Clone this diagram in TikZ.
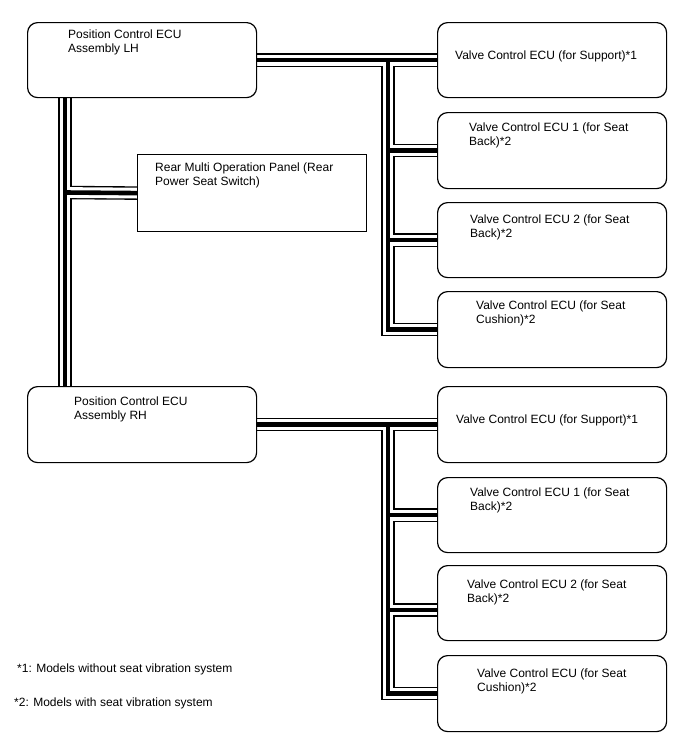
\documentclass[tikz,border=0pt]{standalone}
\usepackage{fontspec}
\setmainfont{Liberation Sans}
\usetikzlibrary{backgrounds}
\begin{document}
\begin{tikzpicture}[x=1pt,y=-1pt,
  ecu/.style={draw=black,line width=1.2pt,fill=white,rounded corners=10pt,anchor=north west,inner sep=0pt,minimum width=229pt},
  panelbox/.style={draw=black,line width=1.2pt,fill=white,anchor=north west,inner sep=0pt,minimum width=229pt,minimum height=77pt},
  txt/.style={anchor=base west,align=left,inner sep=0pt,font=\fontsize{12}{14}\selectfont},
  buslayer/.style={line width=#1,line cap=butt,line join=miter}]
\useasboundingbox (0,0) rectangle (688,755);
% ECU boxes
\node[ecu,minimum height=75pt] (lh) at (27,22) {};
\node[ecu,minimum height=76pt] (rh) at (27,386) {};
\node[panelbox] (panel) at (137,154) {};
\node[ecu,minimum height=75pt] (u1) at (437,22) {};
\node[ecu,minimum height=76pt] (u2) at (437,112) {};
\node[ecu,minimum height=75pt] (u3) at (437,202) {};
\node[ecu,minimum height=76pt] (u4) at (437,291) {};
\node[ecu,minimum height=76pt] (l1) at (437,386) {};
\node[ecu,minimum height=75pt] (l2) at (437,477) {};
\node[ecu,minimum height=75pt] (l3) at (437,565) {};
\node[ecu,minimum height=76pt] (l4) at (437,655) {};
% texts (base anchor of a two-line node = baseline of its last line)
\node[txt] (tlh) at (68,52) {Position Control ECU\\Assembly LH};
\node[txt] (trh) at (74,419) {Position Control ECU\\Assembly RH};
\node[txt] (tpanel) at (155,185) {Rear Multi Operation Panel (Rear\\Power Seat Switch)};
\node[txt] (tu1) at (455,59) {Valve Control ECU (for Support)*1};
\node[txt] (tu2) at (469,145) {Valve Control ECU 1 (for Seat\\Back)*2};
\node[txt] (tu3) at (470,237) {Valve Control ECU 2 (for Seat\\Back)*2};
\node[txt] (tu4) at (476,323) {Valve Control ECU (for Seat\\Cushion)*2};
\node[txt] (tl1) at (456,423) {Valve Control ECU (for Support)*1};
\node[txt] (tl2) at (470,510) {Valve Control ECU 1 (for Seat\\Back)*2};
\node[txt] (tl3) at (467,602) {Valve Control ECU 2 (for Seat\\Back)*2};
\node[txt] (tl4) at (477,691) {Valve Control ECU (for Seat\\Cushion)*2};
\node[txt] (fn1) at (17,672) {*1: Models without seat vibration system};
\node[txt] (fn2) at (14,706) {*2: Models with seat vibration system};
% junction coordinates
\coordinate (ub) at (388,59.5);
\coordinate (lb) at (388,424);
\coordinate (pb) at (65,192.5);
\coordinate (l3in) at (437,610);
% buses
\begin{pgfonlayer}{background}
\foreach \w/\c in {13.5pt/black,10.8pt/white,4.6pt/black}{
  \draw[buslayer=\w,draw=\c] (lh.east) -- (u1.west);
  \draw[buslayer=\w,draw=\c] (ub) |- (u4.west);
  \draw[buslayer=\w,draw=\c] (ub |- u2.west) -- (u2.west);
  \draw[buslayer=\w,draw=\c] (ub |- u3.west) -- (u3.west);
  \draw[buslayer=\w,draw=\c] (rh.east) -- (l1.west);
  \draw[buslayer=\w,draw=\c] (lb) |- (l4.west);
  \draw[buslayer=\w,draw=\c] (lb |- l2.west) -- (l2.west);
  \draw[buslayer=\w,draw=\c] (lb |- l3in) -- (l3in);
  \draw[buslayer=\w,draw=\c] (lh.south -| pb) -- (rh.north -| pb);
  \draw[buslayer=\w,draw=\c] (pb) -- (panel.west);
}
\end{pgfonlayer}
\end{tikzpicture}
\end{document}
